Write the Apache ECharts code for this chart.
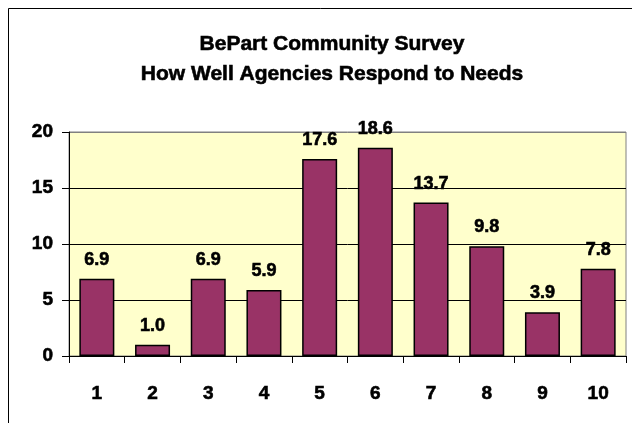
<!DOCTYPE html>
<html>
<head>
<meta charset="utf-8">
<script src="https://cdn.jsdelivr.net/npm/echarts@6/dist/echarts.min.js"></script>
<style>
  html, body { margin: 0; padding: 0; background: #ffffff; }
  #chart { width: 632px; height: 423px; }
</style>
</head>
<body>
<div id="chart"></div>
<script>
// Survey ratings 1-10 and the percentage of respondents choosing each
const ratings = ['1', '2', '3', '4', '5', '6', '7', '8', '9', '10'];
const percentages = [6.9, 1.0, 6.9, 5.9, 17.6, 18.6, 13.7, 9.8, 3.9, 7.8];
const titleLines = ['BePart Community Survey', 'How Well Agencies Respond to Needs'];
const yTicks = { min: 0, max: 20, step: 5 };

const FONT = 'Liberation Sans, Arial, sans-serif';
// a thin outline in the text colour gives the heavy bold look
const heavy = { textBorderColor: '#000000', textBorderWidth: 0.6 };

const chart = echarts.init(document.getElementById('chart'), null, { renderer: 'canvas' });

chart.setOption({
  backgroundColor: '#ffffff',
  animation: false,
  title: {
    text: titleLines.join('\n'),
    left: 327,
    top: 24,
    textAlign: 'center',
    textStyle: Object.assign({
      fontFamily: FONT,
      fontWeight: 'bold',
      fontSize: 21,
      lineHeight: 30,
      color: '#000000'
    }, heavy)
  },
  graphic: [
    {
      type: 'rect',
      silent: true,
      z: -10,
      shape: { x: 8.5, y: 8.5, width: 700, height: 500 },
      style: { fill: 'none', stroke: '#000000', lineWidth: 1 }
    }
  ],
  grid: {
    left: 69,
    right: 6,
    top: 132,
    bottom: 67,
    show: true,
    backgroundColor: '#FFFFCC',
    borderColor: '#808080',
    borderWidth: 1
  },
  xAxis: {
    type: 'category',
    data: ratings,
    axisLine: { show: true, lineStyle: { color: '#000000', width: 1 } },
    axisTick: { show: true, length: 7, inside: false, lineStyle: { color: '#000000' } },
    axisLabel: Object.assign({
      margin: 28,
      fontFamily: FONT,
      fontWeight: 'bold',
      fontSize: 19,
      color: '#000000'
    }, heavy),
    splitLine: { show: false }
  },
  yAxis: {
    type: 'value',
    min: yTicks.min,
    max: yTicks.max,
    interval: yTicks.step,
    axisLine: { show: true, lineStyle: { color: '#000000', width: 1 } },
    axisTick: { show: true, length: 7, inside: false, lineStyle: { color: '#000000' } },
    axisLabel: Object.assign({
      margin: 16,
      fontFamily: FONT,
      fontWeight: 'bold',
      fontSize: 19,
      color: '#000000'
    }, heavy),
    splitLine: {
      show: true,
      lineStyle: { color: ['#000000', '#000000', '#000000', '#000000', '#808080'], width: 1 }
    }
  },
  series: [
    {
      type: 'bar',
      data: percentages,
      barWidth: 35,
      itemStyle: {
        color: '#993366',
        borderColor: '#000000',
        borderWidth: 1.5
      },
      label: Object.assign({
        show: true,
        position: 'top',
        distance: 10,
        formatter: (p) => p.value.toFixed(1),
        fontFamily: FONT,
        fontWeight: 'bold',
        fontSize: 18,
        color: '#000000'
      }, heavy)
    }
  ]
});
</script>
</body>
</html>
